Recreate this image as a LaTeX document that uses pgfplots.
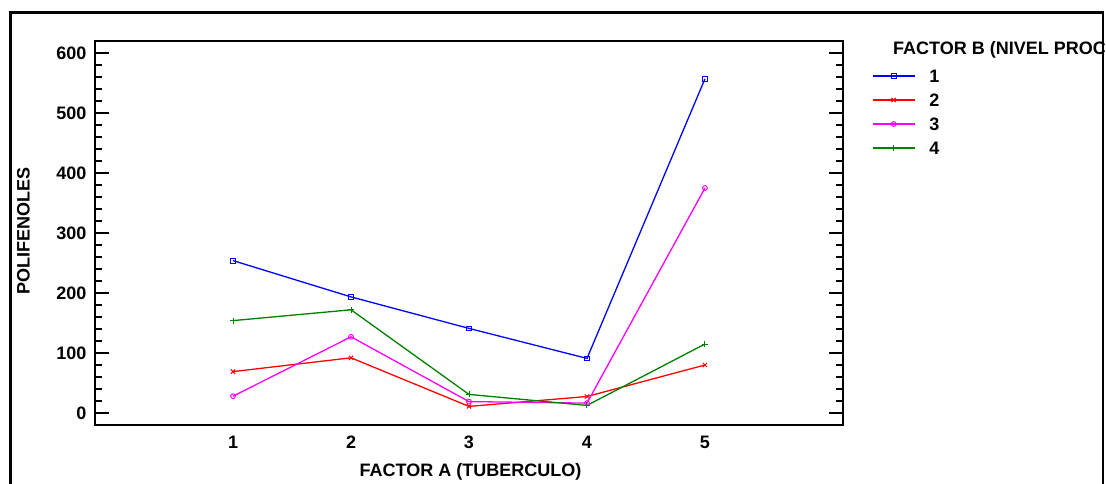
\documentclass[border=0pt]{standalone}
\usepackage{fontspec}
\setmainfont{Liberation Sans}
\usepackage{pgfplots}
\pgfplotsset{compat=1.18}
\definecolor{cblue}{RGB}{0,0,255}
\definecolor{cred}{RGB}{255,0,0}
\definecolor{cmag}{RGB}{255,0,255}
\definecolor{cgreen}{RGB}{0,128,0}
\begin{document}
\begin{tikzpicture}
\begin{axis}[
  at={(95pt,58pt)}, anchor=south west,
  scale only axis, width=748pt, height=384pt,
  xmin=-0.17, xmax=6.17, ymin=-20, ymax=620,
  xtick={1,2,3,4,5}, ytick={0,100,200,300,400,500,600},
  minor y tick num=4,
  xtick style={draw=none},
  ytick style={black, line width=1.5pt},
  major tick length=14pt, minor tick length=7pt,
  tick align=inside, ytick pos=both,
  axis line style={line width=2pt},
  /pgf/number format/assume math mode=true,
  ticklabel style={font=\fontsize{18}{20}\selectfont\bfseries},
  yticklabel style={inner sep=0pt, xshift=-8.3pt},
  xticklabel style={inner sep=0pt, yshift=-11pt},
  xlabel={FACTOR A (TUBERCULO)},
  ylabel={POLIFENOLES},
  label style={font=\fontsize{18}{20}\selectfont\bfseries, inner sep=0pt},
  xlabel style={at={(axis description cs:0.502,-0.1216)}, anchor=center},
  ylabel style={at={(axis description cs:-0.0956,0.504)}, anchor=center},
  legend cell align=left,
  legend image code/.code={\draw[mark repeat=2,mark phase=2,#1] plot coordinates {(0pt,0pt) (21pt,0pt) (42pt,0pt)};},
  legend style={draw=none, fill=none, inner sep=0pt, outer sep=0pt,
    at={(axis description cs:1.0388,0.9258)}, anchor=north west,
    column sep=14pt, row sep=11pt,
    font=\fontsize{18}{20}\selectfont\bfseries,
    nodes={inner sep=0pt, text height=13pt, text depth=0pt}},
]
\addplot[cblue, line width=1.3pt, mark=square, mark size=2.4pt, mark options={solid, line width=1pt}]
  coordinates {(1,254) (2,193.5) (3,141) (4,91) (5,557)};
\addlegendentry{1}
\addplot[cred, line width=1.3pt, mark=x, mark size=3pt, mark options={solid, line width=1pt}]
  coordinates {(1,69) (2,92) (3,11) (4,27.5) (5,80)};
\addlegendentry{2}
\addplot[cmag, line width=1.3pt, mark=o, mark size=2.4pt, mark options={solid, line width=1pt}]
  coordinates {(1,28) (2,127) (3,19) (4,16.5) (5,375)};
\addlegendentry{3}
\addplot[cgreen, line width=1.3pt, mark=+, mark size=3pt, mark options={solid, line width=1pt}]
  coordinates {(1,154) (2,172) (3,31) (4,12.6) (5,115)};
\addlegendentry{4}
\end{axis}
\node[anchor=west, inner sep=0pt, font=\fontsize{18}{20}\selectfont\bfseries] at (893pt,433pt) {FACTOR B (NIVEL PROCESO)};
\fill[white] (1104.5pt,0pt) rectangle (1200pt,483pt);
\draw[line width=2.6pt] (10.3pt,-20pt) -- (10.3pt,470.5pt) -- (1103pt,470.5pt) -- (1103pt,-20pt);
\pgfresetboundingbox
\useasboundingbox (0pt,0pt) rectangle (1106pt,483pt);
\end{tikzpicture}
\end{document}
